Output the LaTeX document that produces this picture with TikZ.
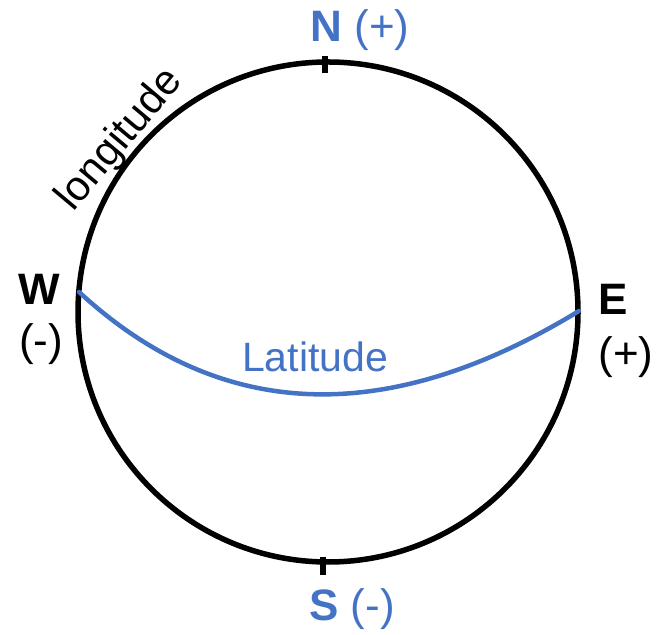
\documentclass[tikz,border=0pt]{standalone}
\usepackage{fontspec}
\setmainfont{Liberation Sans}
\definecolor{latblue}{HTML}{4472C4}
\begin{document}
\begin{tikzpicture}[x=1pt,y=1pt,
  lbl/.style={inner sep=0pt,font=\fontsize{44}{50}\selectfont},
  blbl/.style={lbl,text=latblue},
  tickmark/.style={line width=6pt,black},
  rim/.style={line width=5.5pt,black},
  latline/.style={line width=4.5pt,latblue,line cap=round}]
\useasboundingbox (0,0) rectangle (660,634);
\coordinate (c) at (328,322);
\draw[rim] (c) circle (250);
\coordinate (nt1) at (325,578);
\coordinate (nt2) at (325,561);
\coordinate (st1) at (323,77);
\coordinate (st2) at (323,59);
\draw[tickmark] (nt1) -- (nt2);
\draw[tickmark] (st1) -- (st2);
\coordinate (wp) at (79,342);
\coordinate (ep) at (579,323);
\draw[latline] (wp) .. controls (220,212) and (387,206) .. (ep);
\node[blbl,anchor=base] (n) at (360,592) {{\bfseries N}\ (+)};
\node[blbl,anchor=base] (s) at (352,14) {{\bfseries S}\ (-)};
\node[lbl,anchor=base] (w) at (39,329) {\bfseries W};
\node[lbl,anchor=base] (wm) at (41,278) {(-)};
\node[lbl,anchor=base] (e) at (613,319) {\bfseries E};
\node[lbl,anchor=base] (ep2) at (626,265) {(+)};
\node[blbl,anchor=base,font=\fontsize{41}{46}\selectfont] (lat) at (315,262) {Latitude};
\node[lbl,rotate=50,font=\fontsize{42}{46}\selectfont] (lon) at (120,494) {longitude};
\end{tikzpicture}
\end{document}
